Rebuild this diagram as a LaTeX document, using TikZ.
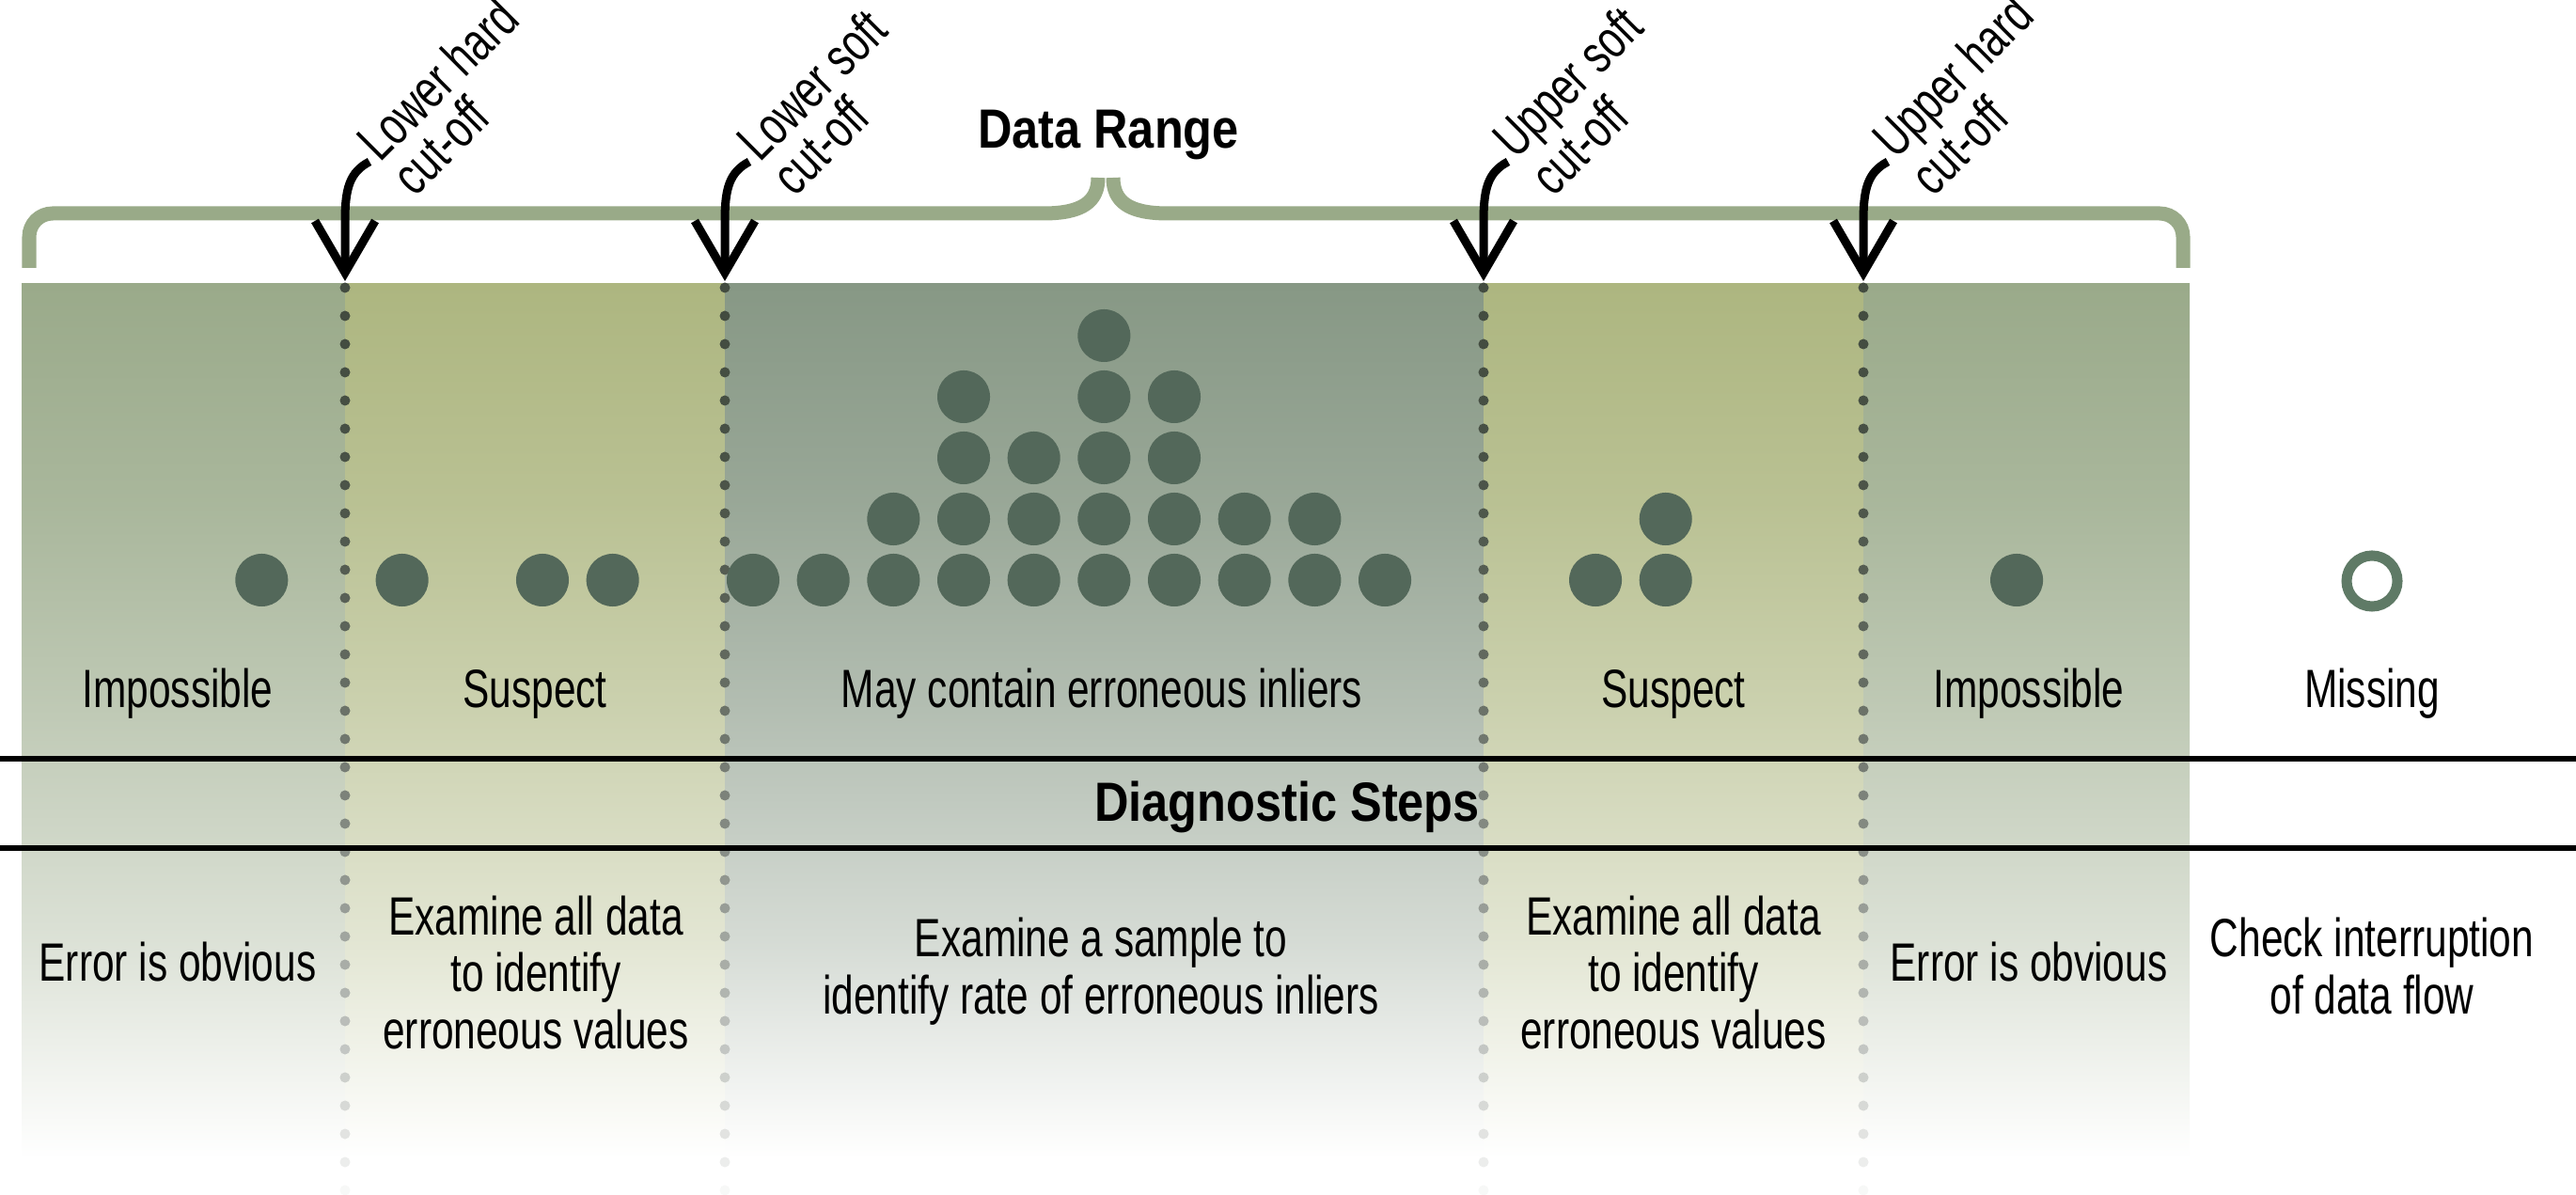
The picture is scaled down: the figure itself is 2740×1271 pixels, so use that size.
\documentclass[tikz,border=0pt]{standalone}
\usepackage{fontspec}
\setmainfont{Liberation Sans}[FakeStretch=0.74]
\newfontfamily\boldf{Liberation Sans}[FakeStretch=0.86]
\usetikzlibrary{arrows.meta}
\definecolor{colA}{HTML}{9AAA8A}
\definecolor{colB}{HTML}{ADB680}
\definecolor{colC}{HTML}{879885}
\definecolor{dotc}{HTML}{53685A}
\definecolor{ringc}{HTML}{5F7A66}
\definecolor{cutdot}{HTML}{434C40}
\definecolor{bracec}{HTML}{99AA88}
\pgfdeclareverticalshading{shA}{100bp}{color(0bp)=(white); color(27bp)=(white); color(39bp)=(colA!35!white); color(52bp)=(colA!64!white); color(63bp)=(colA!85!white); color(75bp)=(colA); color(100bp)=(colA)}
\pgfdeclareverticalshading{shB}{100bp}{color(0bp)=(white); color(27bp)=(white); color(39bp)=(colB!35!white); color(52bp)=(colB!64!white); color(63bp)=(colB!85!white); color(75bp)=(colB); color(100bp)=(colB)}
\pgfdeclareverticalshading{shC}{100bp}{color(0bp)=(white); color(27bp)=(white); color(39bp)=(colC!35!white); color(52bp)=(colC!64!white); color(63bp)=(colC!85!white); color(75bp)=(colC); color(100bp)=(colC)}
\begin{document}
\begin{tikzpicture}[x=0.01cm,y=-0.01cm,
  txt/.style={font=\fontsize{16.3pt}{17.1pt}\selectfont, inner sep=0pt, align=center},
  cutlbl/.style={font=\fontsize{16.3pt}{14.8pt}\selectfont, inner sep=0pt, align=left, rotate=45, anchor=base west},
  boldtxt/.style={font=\boldf\bfseries\fontsize{16.7pt}{18pt}\selectfont, inner sep=0pt},
  hline/.style={line width=0.06cm, black},
  bracestroke/.style={line width=0.15cm, bracec},
  cutarrow/.style={line width=0.09cm, black, -{Straight Barb[length=0.55cm,width=0.64cm,line join=miter,line cap=butt]}}
]
\useasboundingbox (0,0) rectangle (2740,1271);
% shaded columns
\shade[shading=shA] (23,302) rectangle (367,1271);
\shade[shading=shB] (367,302) rectangle (771,1271);
\shade[shading=shC] (771,302) rectangle (1578,1271);
\shade[shading=shB] (1578,302) rectangle (1982,1271);
\shade[shading=shA] (1982,302) rectangle (2329,1271);
% dotted cut-off lines
\foreach \yy in {306,336,...,1266}{
  \pgfmathsetmacro\fr{max(4,100*(1-((\yy-306)/980)^2))}
  \foreach \xx in {367,771,1578,1982}{
    \fill[cutdot!\fr!white] (\xx,\yy) circle[radius=0.055cm];
  }
}
% data points
\foreach \k/\n in {-7/1,-5/1,-3/1,-2/1,0/1,1/1,2/2,3/4,4/3,5/5,6/4,7/2,8/2,9/1,12/1,13/2,18/1}{
  \foreach \j in {1,...,\n}{
    \fill[dotc] ({801+74.67*\k},{617-65*(\j-1)}) circle[radius=0.28cm];
  }
}
\draw[ringc, line width=0.11cm] (2523,618) circle[radius=0.27cm];
% section lines
\draw[hline] (0,807.5) -- (2740,807.5);
\draw[hline] (0,902.5) -- (2740,902.5);
% brace
\draw[bracestroke] (31,285) -- (31,252) .. controls (31,238) and (42,227) .. (56,227) -- (1110,227) .. controls (1152,227) and (1168,214) .. (1168,189);
\draw[bracestroke] (1184,189) .. controls (1184,214) and (1200,227) .. (1242,227) -- (2297,227) .. controls (2311,227) and (2322,238) .. (2322,252) -- (2322,285);
\node[boldtxt, anchor=base] (range) at (1179,158) {Data Range};
% cut-off labels and arrows
\node[cutlbl] (lh) at (441,211) {Lower hard\\cut-off};
\coordinate (lhs) at (393,172);
\coordinate (lht) at (367,299);
\draw[cutarrow] (lhs) .. controls (372,183) and (367,200) .. (367,235) -- (lht);
\node[cutlbl] (ls) at (845,211) {Lower soft\\cut-off};
\coordinate (lss) at (797,172);
\coordinate (lst) at (771,299);
\draw[cutarrow] (lss) .. controls (776,183) and (771,200) .. (771,235) -- (lst);
\node[cutlbl] (us) at (1652,211) {Upper soft\\cut-off};
\coordinate (uss) at (1604,172);
\coordinate (ust) at (1578,299);
\draw[cutarrow] (uss) .. controls (1583,183) and (1578,200) .. (1578,235) -- (ust);
\node[cutlbl] (uh) at (2056,211) {Upper hard\\cut-off};
\coordinate (uhs) at (2008,172);
\coordinate (uht) at (1982,299);
\draw[cutarrow] (uhs) .. controls (1987,183) and (1982,200) .. (1982,235) -- (uht);
% category labels
\node[txt, anchor=base] (c1) at (189,753) {Impossible};
\node[txt, anchor=base] (c2) at (569,753) {Suspect};
\node[txt, anchor=base] (c3) at (1172,753) {May contain erroneous inliers};
\node[txt, anchor=base] (c4) at (1780,753) {Suspect};
\node[txt, anchor=base] (c5) at (2158,753) {Impossible};
\node[txt, anchor=base] (c6) at (2523,753) {Missing};
\node[boldtxt, anchor=base] (diag) at (1369,874) {Diagnostic Steps};
% diagnostic steps (base anchor = last line)
\node[txt, anchor=base] (d1) at (189,1044) {Error is obvious};
\node[txt, anchor=base] (d2) at (570,1115) {Examine all data\\to identify\\erroneous values};
\node[txt, anchor=base] (d3) at (1171,1078) {Examine a sample to\\identify rate of erroneous inliers};
\node[txt, anchor=base] (d4) at (1780,1115) {Examine all data\\to identify\\erroneous values};
\node[txt, anchor=base] (d5) at (2158,1044) {Error is obvious};
\node[txt, anchor=base] (d6) at (2523,1078) {Check interruption\\of data flow};
\end{tikzpicture}
\end{document}
